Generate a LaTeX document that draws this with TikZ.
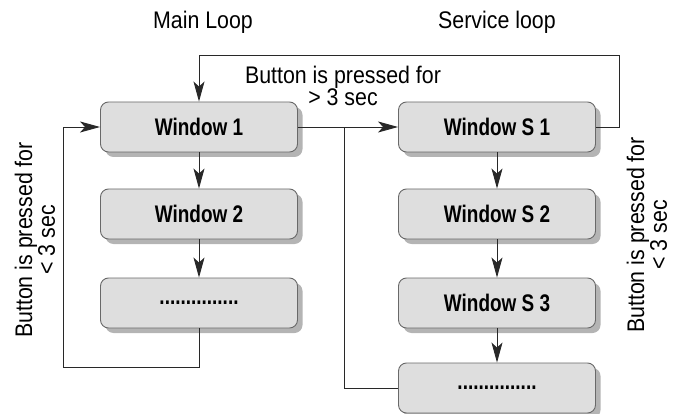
\documentclass[tikz,border=0pt]{standalone}
\usepackage{fontspec}
\setmainfont{Liberation Sans}[FakeStretch=0.89,BoldFeatures={FakeStretch=0.79}]
\usepackage{tikz}
\usetikzlibrary{arrows.meta}
\usetikzlibrary{shadows}
\definecolor{boxfill}{RGB}{222,222,222}
\definecolor{boxline}{RGB}{105,105,105}
\definecolor{shadowgray}{RGB}{180,180,180}
\definecolor{linegray}{RGB}{40,40,40}
\tikzset{
  winbox/.style={draw=boxline,line width=0.9pt,fill=boxfill,rounded corners=8pt,
    minimum width=197pt,minimum height=50pt,inner sep=0pt,
    font=\bfseries\fontsize{24}{26}\selectfont,
    drop shadow={shadow xshift=5pt,shadow yshift=-5pt,fill=shadowgray,opacity=1}},
  lbl/.style={align=center,inner sep=0pt,font=\fontsize{24}{21}\selectfont},
  conn/.style={draw=linegray,line width=0.9pt}
}

\begin{document}
\begin{tikzpicture}[x=1pt,y=-1pt,line join=miter,>={Stealth[length=20pt,width=11pt,inset=5pt]}]
        \useasboundingbox (0,0) rectangle (677,414);
        \node[lbl,anchor=base] (mainlbl) at (203,29) {Main Loop};
        \node[lbl,anchor=base] (servlbl) at (497,29) {Service loop};
        \node[winbox] (w1) at (199,127) {Window 1};
        \node[winbox] (w2) at (199,214) {Window 2};
        \node[winbox] (w3) at (199,303) {...............};
        \node[winbox] (s1) at (497,127) {Window S 1};
        \node[winbox] (s2) at (497,214) {Window S 2};
        \node[winbox] (s3) at (497,303) {Window S 3};
        \node[winbox] (s4) at (497,388) {...............};
        \node[lbl] (gtlbl) at (343,86) {Button is pressed for\\> 3 sec};
        \node[lbl,rotate=90] (ltlbl) at (35,240) {Button is pressed for\\< 3 sec};
        \node[lbl,rotate=90] (rtlbl) at (647,235) {Button is pressed for\\< 3 sec};
        \coordinate (split) at (344,127);
        \coordinate (topR) at (619,55);
        \coordinate (topL) at (199,55);
        \coordinate (botL) at (63,367);
        \draw[conn,->] (w1) -- (w2);
        \draw[conn,->] (w2) -- (w3);
        \draw[conn,->] (s1) -- (s2);
        \draw[conn,->] (s2) -- (s3);
        \draw[conn,->] (s3) -- (s4);
        \draw[conn,->] (w1.east) -- (s1.west);
        \draw[conn] (s4.west) -| (split);
        \draw[conn,->] (s1.east) -| (topR) -- (topL) -- (w1.north);
        \draw[conn,->] (w3.south) |- (botL) |- (w1.west);
\end{tikzpicture}
\end{document}
